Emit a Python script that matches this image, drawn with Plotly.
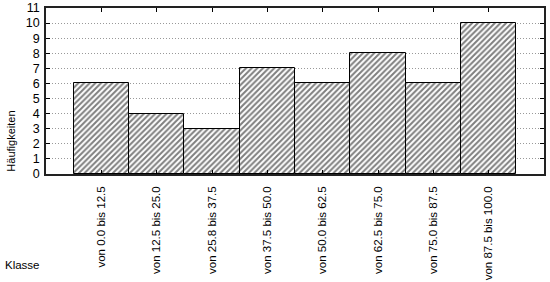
import plotly.graph_objects as go

categories = ["von 0.0 bis 12.5", "von 12.5 bis 25.0", "von 25.8 bis 37.5", "von 37.5 bis 50.0",
              "von 50.0 bis 62.5", "von 62.5 bis 75.0", "von 75.0 bis 87.5", "von 87.5 bis 100.0"]
counts = [6, 4, 3, 7, 6, 8, 6, 10]
y_ticks = list(range(0, 12))

font_family = "Liberation Sans, Arial, sans-serif"

fig = go.Figure(go.Bar(
    x=categories, y=counts,
    marker=dict(color="white", line=dict(color="black", width=1),
                pattern=dict(shape="/", fgcolor="black", bgcolor="white", size=4, solidity=0.5)),
    width=1.0,
))

fig.update_layout(
    width=550, height=282,
    margin=dict(l=46, r=6, t=8, b=108),
    paper_bgcolor="white", plot_bgcolor="white",
    showlegend=False, bargap=0,
    font=dict(family=font_family, color="black"),
    annotations=[
        dict(text="Häufigkeiten", xref="paper", yref="paper", x=-0.072, y=0, xanchor="center",
             yanchor="bottom", textangle=-90, showarrow=False, font=dict(size=11)),
        dict(text="Klasse", xref="paper", yref="paper", x=-0.086, y=-0.55, xanchor="left",
             yanchor="middle", showarrow=False, font=dict(size=11.5)),
    ],
)
fig.update_xaxes(type="category", range=[-1, 8], showline=True, linecolor="#222", linewidth=1.5,
                 mirror="ticks", ticks="inside", ticklen=4, tickcolor="black", automargin=False,
                 tickangle=-90, tickfont=dict(size=11.5), showgrid=False, ticklabelstandoff=6)
fig.update_yaxes(range=[0, 11], tickvals=y_ticks, showline=True, linecolor="#222", linewidth=1.5,
                 mirror="ticks", ticks="inside", ticklen=4, tickcolor="black", automargin=False,
                 tickfont=dict(size=12.5), showgrid=True, gridcolor="#999999", griddash="1px,2px",
                 gridwidth=1, zeroline=False, ticklabelstandoff=2)

fig.write_html("out.html")
